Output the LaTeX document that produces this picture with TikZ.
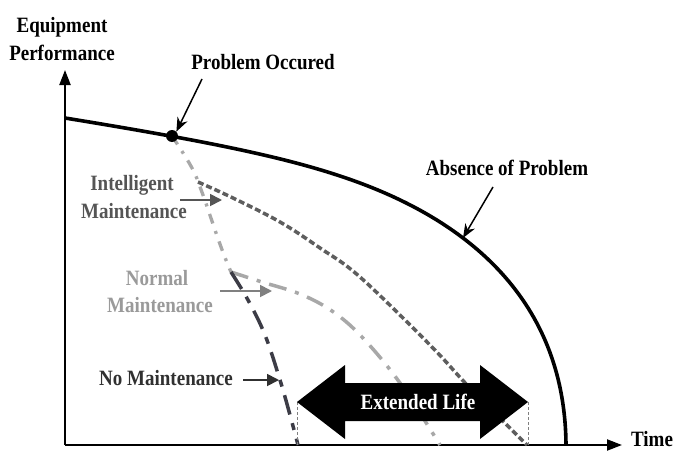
\documentclass[tikz,border=0pt]{standalone}
\usepackage{fontspec}
\setmainfont{Liberation Serif}
\usepackage{graphicx}
\usetikzlibrary{arrows.meta}
\definecolor{intc}{HTML}{5E5E5E}
\definecolor{normc}{HTML}{A8A8A8}
\definecolor{noc}{HTML}{3C3C46}
\definecolor{inttxt}{HTML}{555555}
\definecolor{normtxt}{HTML}{9A9A9A}
\definecolor{notxt}{HTML}{303030}
\newcommand{\stt}[1]{\scalebox{1}[1.15]{#1}}
\tikzset{
  lbl/.style={font=\bfseries\fontsize{19}{22}\selectfont, inner sep=0pt},
  axis/.style={line width=2.2pt, -{Triangle[length=15pt,width=11pt]}},
  callout/.style={line width=1.5pt, -{Stealth[length=14pt,width=11pt]}},
  ptr/.style={line width=1.8pt, -{Triangle[length=12pt,width=12pt]}},
  guide/.style={gray, line width=0.8pt, dash pattern=on 3pt off 2pt},
}
\begin{document}
\begin{tikzpicture}[x=1pt,y=-1pt]
\useasboundingbox (0,0) rectangle (675,455);
\fill[white] (0,0) rectangle (675,455);
% axes
\coordinate (O) at (65,445);
\coordinate (Ytop) at (65,70);
\coordinate (Xend) at (622,445);
\draw[axis] (O) -- (Ytop);
\draw[axis] (O) -- (Xend);
\node[lbl] (eq) at (62,27) {\stt{Equipment}};
\node[lbl] (perf) at (62,53) {\stt{Performance}};
\node[lbl] (time) at (652,439) {\stt{Time}};
% maintenance curves
\draw[normc, line width=3.3pt, dash pattern=on 10pt off 8pt on 3pt off 8pt]
  plot[smooth, tension=0.6] coordinates {(172,136) (192,168) (203,195) (215,230) (224,255) (231,272)};
\draw[normc, line width=3.5pt, dash pattern=on 18pt off 9pt on 4pt off 9pt]
  plot[smooth, tension=0.6] coordinates {(231,272) (262,282) (300,294) (332,311) (362,337) (400,383) (440,445)};
\draw[intc, line width=3.5pt, dash pattern=on 6pt off 3pt]
  plot[smooth, tension=0.6] coordinates {(198,182) (233,198) (280,222) (320,248) (360,277) (430,345) (470,388) (527,445)};
\draw[noc, line width=3.5pt, dash pattern=on 20pt off 9pt on 7pt off 9pt]
  plot[smooth, tension=0.6] coordinates {(231,272) (248,300) (265,335) (280,380) (290,415) (298,445)};
% absence of problem curve
\coordinate (A0) at (65,118);
\coordinate (A1) at (340,176);
\coordinate (A2) at (566,445);
\draw[line width=3.6pt] (A0) .. controls (200,140) and (280,156) .. (A1)
  .. controls (480,222) and (565,310) .. (A2);
\node[circle, fill=black, minimum size=12pt, inner sep=0pt] (dot) at (172,136) {};
% callouts
\node[lbl] (prob) at (263,62) {\stt{Problem Occured}};
\coordinate (probs) at (202,79);
\draw[callout] (probs) -- (dot.north east);
\node[lbl] (abs) at (507,168) {\stt{Absence of Problem}};
\coordinate (abss) at (493,187);
\coordinate (abst) at (463,238);
\draw[callout] (abss) -- (abst);
% labels with pointers
\node[lbl, inttxt] (int1) at (132,185) {\stt{Intelligent}};
\node[lbl, inttxt] (int2) at (134,211) {\stt{Maintenance}};
\coordinate (inta) at (180,200); \coordinate (intb) at (222,200);
\draw[ptr, inttxt] (inta) -- (intb);
\node[lbl, normtxt] (nor1) at (157,278) {\stt{Normal}};
\node[lbl, normtxt] (nor2) at (160,305) {\stt{Maintenance}};
\coordinate (nora) at (220,291); \coordinate (norb) at (272,291);
\draw[ptr, color=gray] (nora) -- (norb);
\node[lbl, notxt] (nom) at (166,378) {\stt{No Maintenance}};
\coordinate (noa) at (243,380); \coordinate (nob) at (279,380);
\draw[ptr, notxt] (noa) -- (nob);
% extended life arrow
\coordinate (L) at (297,402);
\coordinate (R) at (528,402);
\coordinate (Lb) at (297,445);
\coordinate (Rb) at (528,445);
\draw[guide] (L) -- (Lb);
\draw[guide] (R) -- (Rb);
\fill[black] (L) -- (345,365) -- (345,383) -- (480,383) -- (480,365) -- (R)
  -- (480,439) -- (480,421) -- (345,421) -- (345,439) -- cycle;
\node[lbl, white] (ext) at (418,402) {\stt{Extended Life}};
\end{tikzpicture}
\end{document}
